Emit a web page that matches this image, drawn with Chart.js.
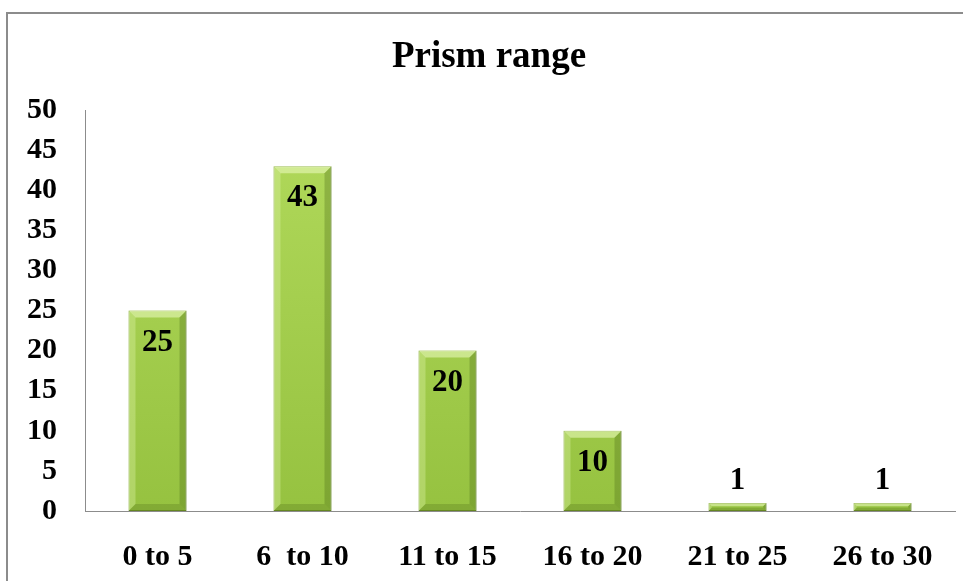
<!DOCTYPE html>
<html>
<head>
<meta charset="utf-8">
<script src="https://cdn.jsdelivr.net/npm/chart.js@4"></script>
<style>
  html, body { margin: 0; padding: 0; background: #fff; }
  #wrap { width: 963px; height: 581px; position: relative; }
</style>
</head>
<body>
<div id="wrap"><canvas id="c" width="963" height="581"></canvas></div>
<script>
const categories = ['0 to 5', '6  to 10', '11 to 15', '16 to 20', '21 to 25', '26 to 30'];
const counts = [25, 43, 20, 10, 1, 1];
const yTicks = [0, 5, 10, 15, 20, 25, 30, 35, 40, 45, 50];
const chartTitle = 'Prism range';

const serif = '"Liberation Serif", "Times New Roman", serif';

// Outer frame and the heading
const framePlugin = {
  id: 'frame',
  beforeDraw(chart) {
    const ctx = chart.ctx;
    ctx.save();
    ctx.fillStyle = '#fff';
    ctx.fillRect(0, 0, chart.width, chart.height);
    ctx.strokeStyle = '#8c8c8c';
    ctx.lineWidth = 2;
    ctx.beginPath();
    ctx.moveTo(7, chart.height + 5);
    ctx.lineTo(7, 13);
    ctx.lineTo(chart.width + 5, 13);
    ctx.stroke();

    ctx.fillStyle = '#000';
    ctx.font = 'bold 37px ' + serif;
    ctx.textAlign = 'center';
    ctx.textBaseline = 'middle';
    ctx.fillText(chartTitle, 489, 57);
    ctx.restore();
  }
};

// Bevel highlights and value labels on each bar
const barDecor = {
  id: 'barDecor',
  afterDatasetsDraw(chart) {
    const ctx = chart.ctx;
    const meta = chart.getDatasetMeta(0);
    ctx.save();
    meta.data.forEach((bar, i) => {
      const left = bar.x - bar.width / 2;
      const right = bar.x + bar.width / 2;
      const top = bar.y;
      const bottom = bar.base;
      const h = bottom - top;
      const b = Math.min(7, h / 2.5);
      // top bevel (light)
      ctx.fillStyle = 'rgba(232,248,185,0.6)';
      ctx.beginPath();
      ctx.moveTo(left, top); ctx.lineTo(right, top);
      ctx.lineTo(right - b, top + b); ctx.lineTo(left + b, top + b);
      ctx.closePath(); ctx.fill();
      // left bevel (light)
      ctx.fillStyle = 'rgba(225,245,175,0.35)';
      ctx.beginPath();
      ctx.moveTo(left, top); ctx.lineTo(left + b, top + b);
      ctx.lineTo(left + b, bottom - b); ctx.lineTo(left, bottom);
      ctx.closePath(); ctx.fill();
      // right bevel (dark)
      ctx.fillStyle = 'rgba(70,100,20,0.3)';
      ctx.beginPath();
      ctx.moveTo(right, top); ctx.lineTo(right - b, top + b);
      ctx.lineTo(right - b, bottom - b); ctx.lineTo(right, bottom);
      ctx.closePath(); ctx.fill();
      // bottom bevel (dark)
      ctx.fillStyle = 'rgba(70,100,20,0.25)';
      ctx.beginPath();
      ctx.moveTo(left, bottom); ctx.lineTo(right, bottom);
      ctx.lineTo(right - b, bottom - b); ctx.lineTo(left + b, bottom - b);
      ctx.closePath(); ctx.fill();

      // value label
      const v = counts[i];
      ctx.fillStyle = '#000';
      ctx.font = 'bold 31px ' + serif;
      ctx.textAlign = 'center';
      ctx.textBaseline = 'middle';
      const ty = h > 40 ? top + 32 : top - 22;
      ctx.fillText(String(v), bar.x, ty);
    });
    ctx.restore();
  }
};

const ctx = document.getElementById('c').getContext('2d');
new Chart(ctx, {
  type: 'bar',
  data: {
    labels: categories,
    datasets: [{
      data: counts,
      backgroundColor(context) {
        const area = context.chart.chartArea;
        if (!area) return '#a4cc4a';
        const g = context.chart.ctx.createLinearGradient(0, area.top, 0, area.bottom);
        g.addColorStop(0, '#b2da5c');
        g.addColorStop(1, '#96c240');
        return g;
      },
      borderColor: '#6f9226',
      borderWidth: 1,
      borderSkipped: false,
      barPercentage: 0.4,
      categoryPercentage: 1.0
    }]
  },
  options: {
    responsive: false,
    animation: false,
    devicePixelRatio: 1,
    layout: { padding: { left: 0, right: 8, top: 110, bottom: 0 } },
    plugins: {
      legend: { display: false },
      tooltip: { enabled: false },
      title: { display: false }
    },
    scales: {
      x: {
        grid: { display: false, drawTicks: false },
        border: { display: true, color: '#8c8c8c', width: 1 },
        ticks: {
          color: '#000',
          font: { family: serif, size: 30, weight: 'bold' },
          padding: 28,
          maxRotation: 0,
          autoSkip: false
        },
        afterFit(scale) { scale.height = 70; }
      },
      y: {
        min: 0,
        max: 50,
        afterBuildTicks(scale) { scale.ticks = yTicks.map(v => ({ value: v })); },
        grid: { display: false, drawTicks: false },
        border: { display: true, color: '#8c8c8c', width: 1 },
        ticks: {
          color: '#000',
          font: { family: serif, size: 30, weight: 'bold' },
          padding: 28
        },
        afterFit(scale) { scale.width = 85; }
      }
    }
  },
  plugins: [framePlugin, barDecor]
});
</script>
</body>
</html>
